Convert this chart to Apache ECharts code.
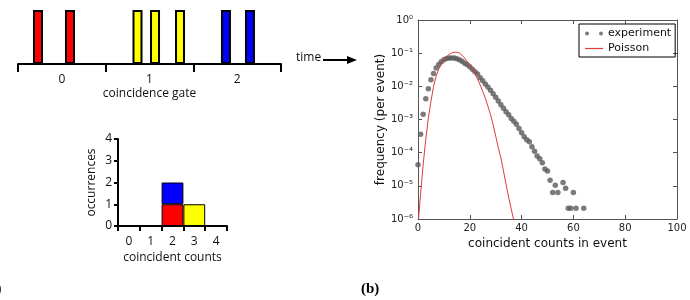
<!DOCTYPE html>
<html>
<head>
<meta charset="utf-8">
<script src="https://cdn.jsdelivr.net/npm/echarts@6.0.0/dist/echarts.min.js"></script>
<style>html,body{margin:0;padding:0;background:#fff;}#c{width:690px;height:300px;}</style>
</head>
<body>
<div id="c"></div>
<script>
// ---- (a) top: pulses in coincidence gates (positions in gate units)
const gateLabels = ['0', '1', '2'];
const pulseRed = [0.228, 0.593];
const pulseYellow = [1.363, 1.563, 1.848];
const pulseBlue = [2.372, 2.646];

// ---- (a) bottom: histogram of coincident counts
const histCategories = ['0', '1', '2', '3', '4'];
const histRed    = [null, null, 1, null, null];
const histBlue   = [null, null, 1, null, null];
const histYellow = [null, null, null, 1, null];

// ---- (b) frequency distribution
const expCounts = [0,1,2,3,4,5,6,7,8,9,10,11,12,13,14,15,16,17,18,19,20,21,22,23,24,25,26,27,28,29,30,
  31,32,33,34,35,36,37,38,39,40,41,42,43,44,45,46,47,48,49,50,51,52,53,54,56,57,58,59,60,61,64];
const expFreq = [4.3e-5,3.6e-4,1.45e-3,4.2e-3,8.5e-3,0.0158,0.0245,0.0355,0.0457,0.055,0.063,0.069,0.072,0.072,0.071,
  0.068,0.063,0.0575,0.050,0.0447,0.039,0.033,0.0275,0.0234,0.0182,0.0148,0.0117,0.0095,0.0076,0.0060,0.0047,
  0.0036,0.0028,0.0022,0.0017,0.0014,0.00107,0.00089,0.00072,0.00054,0.0004,0.0003,0.000245,0.000214,0.000151,
  0.00011,7.9e-5,6.5e-5,5.0e-5,3.2e-5,2.8e-5,1.47e-5,6.3e-6,1.05e-5,6.3e-6,1.26e-5,8.4e-6,2.1e-6,2.1e-6,6.3e-6,2.1e-6,2.1e-6];
const poisCounts = [0,1,2,3,4,5,6,7,8,9,10,11,12,13,14,15,16,17,18,19,20,21,22,23,24,25,26,27,28,29,30,31,32,33,34,35,36,37];
const poisFreq = [6.3e-7,5.6e-6,4.5e-5,2.5e-4,1.12e-3,3.5e-3,0.010,0.020,0.033,0.048,0.063,0.078,0.091,0.102,0.107,0.107,
  0.100,0.087,0.072,0.056,0.044,0.033,0.024,0.0166,0.011,0.0071,0.0044,0.0025,0.0014,0.0007,0.00032,0.00014,7.1e-5,
  2.8e-5,1.12e-5,4.5e-6,2.0e-6,8.9e-7];
const xTicks = [0, 20, 40, 60, 80, 100];
const yTickLabels = {'0':'10\u2070','-1':'10\u207B\u00B9','-2':'10\u207B\u00B2','-3':'10\u207B\u00B3',
  '-4':'10\u207B\u2074','-5':'10\u207B\u2075','-6':'10\u207B\u2076'};

const pulseData = []
  .concat(pulseRed.map(x => ({value: [x, 1], itemStyle: {color: '#ff0000'}})))
  .concat(pulseYellow.map(x => ({value: [x, 1], itemStyle: {color: '#ffff00'}})))
  .concat(pulseBlue.map(x => ({value: [x, 1], itemStyle: {color: '#0000ff'}})));

const sansA = 'Open Sans';
const sansB = 'DejaVu Sans';
const black = '#000';

const chart = echarts.init(document.getElementById('c'), null, {renderer: 'canvas'});
chart.setOption({
  animation: false,
  backgroundColor: '#fff',
  grid: [
    {left: 18, width: 263, top: 10, height: 54, outerBoundsMode: 'none', containLabel: false},
    {left: 118, width: 109, top: 139, height: 87, outerBoundsMode: 'none', containLabel: false},
    {left: 418, right: 13, top: 20, bottom: 81, outerBoundsMode: 'none', containLabel: false}
  ],
  legend: {
    left: 579, top: 24, orient: 'vertical',
    borderColor: '#000', borderWidth: 1, borderRadius: 0,
    padding: [4, 4, 3, 6], itemGap: 4, itemWidth: 18, itemHeight: 10,
    textStyle: {fontFamily: sansB, fontSize: 11, color: '#111'},
    data: [
      {name: 'experiment', icon: 'path://M0,2a2,2 0 1,0 4,0a2,2 0 1,0 -4,0M14,2a2,2 0 1,0 4,0a2,2 0 1,0 -4,0'},
      {name: 'Poisson', icon: 'path://M0,0H18V1.2H0Z'}
    ]
  },
  xAxis: [
    {gridIndex: 0, type: 'value', min: 0, max: 3, interval: 1, position: 'bottom',
      axisLine: {show: true, onZero: false, lineStyle: {color: black, width: 2}},
      axisTick: {show: true, length: 8, lineStyle: {color: black, width: 2}},
      axisLabel: {show: false}, splitLine: {show: false}},
    {gridIndex: 0, type: 'value', min: 0, max: 3, interval: 0.5, position: 'bottom', offset: 0,
      axisLine: {show: false, onZero: false}, axisTick: {show: false}, splitLine: {show: false},
      axisLabel: {margin: 10, fontFamily: sansA, fontSize: 12, color: '#111',
        formatter: v => (Math.abs(v % 1 - 0.5) < 1e-6 ? gateLabels[Math.floor(v)] : '')},
      name: 'coincidence gate', nameLocation: 'middle', nameGap: 24,
      nameTextStyle: {fontFamily: sansA, fontSize: 12, color: '#111'}},
    {gridIndex: 1, type: 'category', data: histCategories, boundaryGap: true,
      axisLine: {show: true, lineStyle: {color: black, width: 2}},
      axisTick: {show: true, length: 5, lineStyle: {color: black, width: 2}},
      axisLabel: {margin: 10, fontFamily: sansA, fontSize: 12, color: '#111'},
      name: 'coincident counts', nameLocation: 'middle', nameGap: 26,
      nameTextStyle: {fontFamily: sansA, fontSize: 12, color: '#111'}},
    {gridIndex: 2, type: 'value', min: 0, max: 100, interval: 20, position: 'bottom',
      axisLine: {show: true, onZero: false, lineStyle: {color: '#555', width: 1}},
      axisTick: {show: true, inside: true, length: 4, lineStyle: {color: '#555'}},
      axisLabel: {margin: 4, fontFamily: sansB, fontSize: 10, color: '#222',
        formatter: v => (xTicks.indexOf(v) >= 0 ? String(v) : '')},
      splitLine: {show: false},
      name: 'coincident counts in event', nameLocation: 'middle', nameGap: 12,
      nameTextStyle: {fontFamily: sansB, fontSize: 12, color: '#111'}},
    {gridIndex: 2, type: 'value', min: 0, max: 100, interval: 20, position: 'top',
      axisLine: {show: true, onZero: false, lineStyle: {color: '#555', width: 1}},
      axisTick: {show: true, inside: true, length: 4, lineStyle: {color: '#555'}},
      axisLabel: {show: false}, splitLine: {show: false}}
  ],
  yAxis: [
    {gridIndex: 0, type: 'value', min: 0, max: 1, show: false},
    {gridIndex: 1, type: 'value', min: 0, max: 4, interval: 1,
      axisLine: {show: true, lineStyle: {color: black, width: 2}},
      axisTick: {show: true, length: 4, lineStyle: {color: black, width: 2}},
      axisLabel: {margin: 6, fontFamily: sansA, fontSize: 12, color: '#111'},
      splitLine: {show: false},
      name: 'occurrences', nameLocation: 'middle', nameGap: 20,
      nameTextStyle: {fontFamily: sansA, fontSize: 12, color: '#111'}},
    {gridIndex: 2, type: 'log', logBase: 10, min: 1e-6, max: 1, interval: 1, splitNumber: 6, position: 'left',
      axisLine: {show: true, onZero: false, lineStyle: {color: '#555', width: 1}},
      axisTick: {show: true, inside: true, length: 4, lineStyle: {color: '#555'}},
      axisLabel: {margin: 5, fontFamily: sansB, fontSize: 10, color: '#222',
        formatter: v => yTickLabels[String(Math.round(Math.log10(v)))] || ''},
      splitLine: {show: false},
      name: 'frequency (per event)', nameLocation: 'middle', nameGap: 24,
      nameTextStyle: {fontFamily: sansB, fontSize: 12, color: '#111'}},
    {gridIndex: 2, type: 'log', logBase: 10, min: 1e-6, max: 1, interval: 1, splitNumber: 6, position: 'right',
      axisLine: {show: true, onZero: false, lineStyle: {color: '#555', width: 1}},
      axisTick: {show: true, inside: true, length: 4, lineStyle: {color: '#555'}},
      axisLabel: {show: false}, splitLine: {show: false}}
  ],
  series: [
    {type: 'bar', xAxisIndex: 0, yAxisIndex: 0, barWidth: 10, data: pulseData,
      itemStyle: {borderColor: black, borderWidth: 2}},
    {type: 'bar', name: 'h2', xAxisIndex: 2, yAxisIndex: 1, stack: 'h', barCategoryGap: '0%', data: histRed,
      itemStyle: {color: '#ff0000', borderColor: black, borderWidth: 1}},
    {type: 'bar', name: 'h1', xAxisIndex: 2, yAxisIndex: 1, stack: 'h', barCategoryGap: '0%', data: histBlue,
      itemStyle: {color: '#0000ff', borderColor: black, borderWidth: 1}},
    {type: 'bar', name: 'h3', xAxisIndex: 2, yAxisIndex: 1, stack: 'h', barCategoryGap: '0%', data: histYellow,
      itemStyle: {color: '#ffff00', borderColor: black, borderWidth: 1}},
    {type: 'line', name: 'Poisson', xAxisIndex: 3, yAxisIndex: 2, showSymbol: false, symbol: 'none', clip: true,
      data: poisCounts.map((x, i) => [x, poisFreq[i]]),
      lineStyle: {color: '#e03a3a', width: 1}, itemStyle: {color: '#e03a3a'}, z: 3},
    {type: 'scatter', name: 'experiment', xAxisIndex: 3, yAxisIndex: 2, symbolSize: 5.5, clip: true,
      data: expCounts.map((x, i) => [x, expFreq[i]]),
      itemStyle: {color: '#5a5a5a'}, z: 2}
  ],
  graphic: [
    {type: 'text', x: 296, y: 52, style: {text: 'time', font: '12px "Open Sans"', fill: '#111'}},
    {type: 'line', shape: {x1: 323, y1: 60, x2: 350, y2: 60}, style: {stroke: black, lineWidth: 2}},
    {type: 'polygon', shape: {points: [[347, 56], [357, 60], [347, 64]]}, style: {fill: black}},
    {type: 'text', x: 361, y: 282, style: {text: '(b)', font: 'bold 15px "Liberation Serif"', fill: '#000'}},
    {type: 'text', x: -16, y: 282, style: {text: '(a)', font: 'bold 15px "Liberation Serif"', fill: '#000'}}
  ]
});
</script>
</body>
</html>
